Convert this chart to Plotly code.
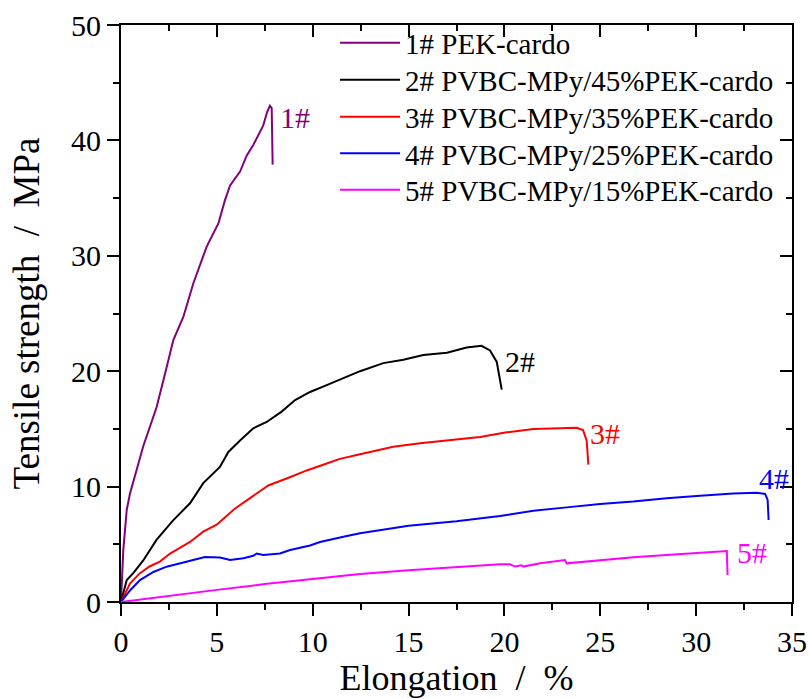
import plotly.graph_objects as go

# ---- data ----
x1 = [0, 0.12, 0.3, 0.47, 1.16, 1.86, 2.3, 2.73, 3.25, 3.77, 4.47, 5.08, 5.42, 5.69, 6.21, 6.56, 6.9, 7.42, 7.63, 7.77, 7.86, 7.91]
y1 = [0, 4.5, 8.0, 9.4, 13.5, 16.9, 19.8, 22.7, 24.7, 27.6, 30.8, 32.8, 34.8, 36.1, 37.3, 38.7, 39.6, 41.3, 42.5, 43.0, 42.8, 37.9]

x2 = [0, 0.3, 0.64, 1.16, 1.86, 2.73, 3.6, 4.29, 5.16, 5.6, 6.21, 6.9, 7.6, 8.38, 9.08, 9.86, 10.73, 11.6, 12.47, 13.68, 14.73, 15.77, 17.0, 18.03, 18.8, 19.25, 19.6, 19.86]
y2 = [0, 1.9, 2.5, 3.6, 5.4, 7.1, 8.55, 10.3, 11.7, 13.0, 14.0, 15.05, 15.6, 16.5, 17.5, 18.2, 18.8, 19.4, 20.0, 20.7, 21.0, 21.4, 21.6, 22.05, 22.2, 21.8, 20.8, 18.4]

x3 = [0, 0.47, 0.99, 1.51, 2.03, 2.56, 3.6, 4.29, 4.99, 5.95, 6.73, 7.68, 8.64, 9.69, 10.73, 11.42, 12.47, 14.2, 15.6, 17.16, 18.73, 20.12, 21.51, 22.9, 23.77, 24.1, 24.29, 24.38]
y3 = [0, 1.6, 2.5, 3.1, 3.5, 4.2, 5.2, 6.1, 6.7, 8.1, 9.0, 10.1, 10.7, 11.4, 12.0, 12.4, 12.8, 13.45, 13.75, 14.0, 14.3, 14.7, 15.0, 15.05, 15.1, 14.9, 14.0, 11.9]

x4 = [0, 0.47, 0.99, 1.69, 2.38, 3.08, 3.77, 4.38, 5.16, 5.69, 6.38, 6.9, 7.08, 7.42, 8.29, 8.82, 9.86, 10.38, 11.6, 12.47, 15.0, 17.5, 19.77, 21.51, 23.25, 24.99, 26.72, 28.46, 30.2, 31.94, 33.16, 33.6, 33.73, 33.78]
y4 = [0, 1.0, 1.9, 2.6, 3.06, 3.35, 3.7, 3.9, 3.85, 3.64, 3.8, 4.0, 4.2, 4.07, 4.2, 4.5, 4.9, 5.2, 5.66, 5.95, 6.6, 7.0, 7.45, 7.9, 8.2, 8.5, 8.7, 9.0, 9.2, 9.4, 9.47, 9.36, 8.84, 7.1]

x5 = [0, 2.5, 5.0, 7.5, 10.0, 12.47, 15.0, 17.5, 19.77, 20.29, 20.55, 20.9, 20.99, 21.86, 23.16, 23.25, 24.99, 26.72, 28.46, 30.2, 31.42, 31.6, 31.64]
y5 = [0, 0.55, 1.05, 1.55, 2.0, 2.42, 2.75, 3.05, 3.27, 3.27, 3.07, 3.18, 3.07, 3.35, 3.64, 3.35, 3.64, 3.87, 4.07, 4.27, 4.42, 4.42, 2.34]

names = ["1# PEK-cardo", "2# PVBC-MPy/45%PEK-cardo", "3# PVBC-MPy/35%PEK-cardo",
         "4# PVBC-MPy/25%PEK-cardo", "5# PVBC-MPy/15%PEK-cardo"]
colors = ["#800080", "#000000", "#ff0000", "#0000ff", "#ff00ff"]
series = [(x1, y1), (x2, y2), (x3, y3), (x4, y4), (x5, y5)]

labels = ["1#", "2#", "3#", "4#", "5#"]
label_x = [9.05, 20.8, 25.25, 34.05, 32.9]
label_y = [42.0, 20.8, 14.6, 10.7, 4.3]

x_ticks = [0, 5, 10, 15, 20, 25, 30, 35]
y_ticks = [0, 10, 20, 30, 40, 50]

FONT = "Liberation Serif"

# legend row centres (paper fraction) and left edge
legend_rows = [0.9688, 0.9047, 0.8406, 0.7773, 0.7140]
LEGEND_X = 0.319

fig = go.Figure()
legend_ids = ["legend", "legend2", "legend3", "legend4", "legend5"]
for (xs, ys), n, c, lid in zip(series, names, colors, legend_ids):
    fig.add_trace(go.Scatter(x=xs, y=ys, name=n, mode="lines",
                             line=dict(color=c, width=2), legend=lid))

# dummy trace to show mirrored top/right axes with inward ticks
fig.add_trace(go.Scatter(x=[None], y=[None], xaxis="x2", yaxis="y2",
                         showlegend=False, hoverinfo="skip"))

for t, lx, ly, c in zip(labels, label_x, label_y, colors):
    fig.add_annotation(x=lx, y=ly, text=t, showarrow=False,
                       font=dict(family=FONT, size=30, color=c))

axis_common = dict(showgrid=False, zeroline=False, showline=True,
                   linecolor="black", linewidth=2, tickcolor="black",
                   tickwidth=2, automargin=False)

legend_style = dict(xanchor="left", yanchor="middle", bgcolor="rgba(0,0,0,0)",
                    borderwidth=0, font=dict(size=29, family=FONT, color="black"),
                    itemwidth=60)

layout_legends = {}
for lid, ly in zip(legend_ids, legend_rows):
    layout_legends[lid] = dict(x=LEGEND_X, y=ly, **legend_style)

fig.update_layout(
    width=809, height=699,
    margin=dict(l=121, r=17, t=25, b=97),
    paper_bgcolor="white", plot_bgcolor="white",
    font=dict(family=FONT, color="black"),
    xaxis=dict(range=[0, 35], tickvals=x_ticks, ticks="outside", ticklen=12,
               minor=dict(dtick=2.5, tick0=0, ticks="outside", ticklen=6,
                          tickwidth=2, tickcolor="black"),
               tickfont=dict(size=30, family=FONT),
               title=dict(text="Elongation  /  %", font=dict(size=36, family=FONT), standoff=6),
               **axis_common),
    yaxis=dict(range=[0, 50], tickvals=y_ticks, ticks="outside", ticklen=12,
               minor=dict(dtick=5, tick0=0, ticks="outside", ticklen=6,
                          tickwidth=2, tickcolor="black"),
               tickfont=dict(size=30, family=FONT),
               title=dict(text="Tensile strength  /  MPa", font=dict(size=37, family=FONT), standoff=20),
               **axis_common),
    xaxis2=dict(range=[0, 35], overlaying="x", side="top", tickvals=x_ticks,
                ticks="inside", ticklen=12, showticklabels=False,
                minor=dict(dtick=2.5, tick0=0, ticks="inside", ticklen=6,
                           tickwidth=2, tickcolor="black"),
                **axis_common),
    yaxis2=dict(range=[0, 50], overlaying="y", side="right", tickvals=y_ticks,
                ticks="inside", ticklen=12, showticklabels=False,
                minor=dict(dtick=5, tick0=0, ticks="inside", ticklen=6,
                           tickwidth=2, tickcolor="black"),
                **axis_common),
    showlegend=True,
    **layout_legends,
)

fig.write_html("out.html")
